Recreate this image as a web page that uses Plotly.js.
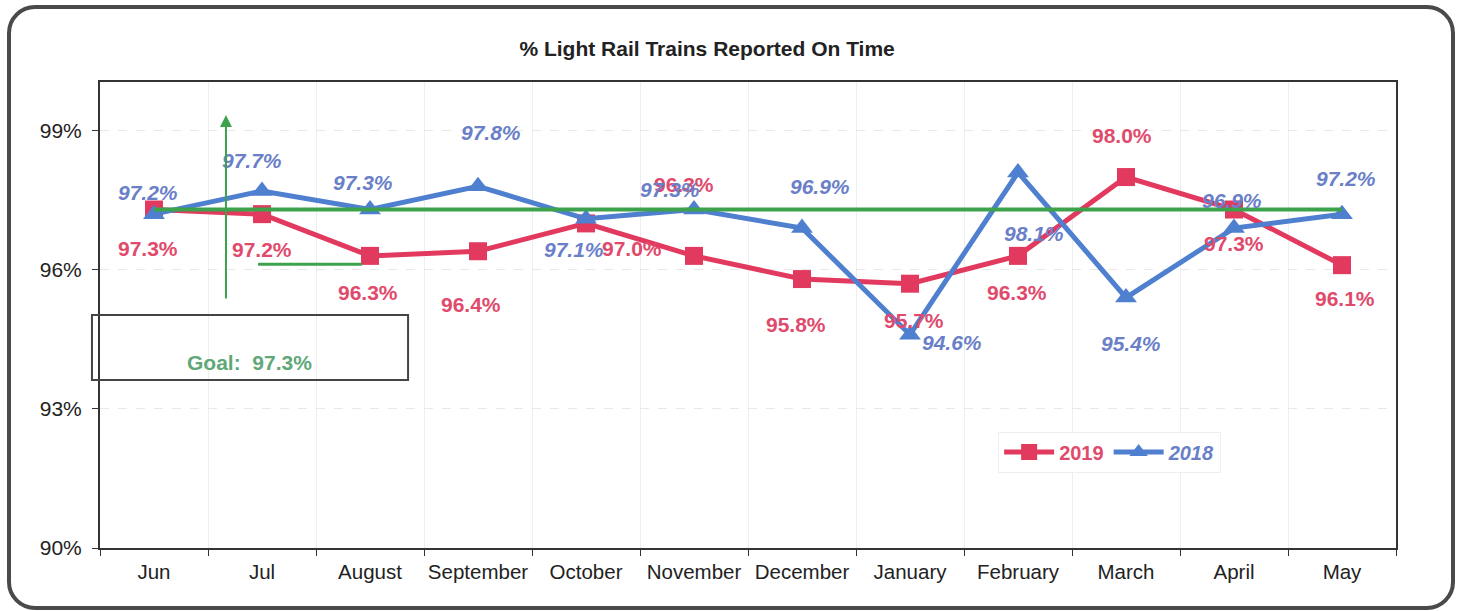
<!DOCTYPE html>
<html>
<head>
<meta charset="utf-8">
<script src="https://cdn.plot.ly/plotly-3.0.1.min.js"></script>
<style>
  html, body { margin: 0; padding: 0; background: #fff; }
  #wrap { position: relative; width: 1461px; height: 611px; overflow: hidden; }
  #chart { position: absolute; left: 0; top: 0; width: 1461px; height: 611px; }
  #frame { position: absolute; left: 7px; top: 5px; width: 1440px; height: 597px;
           border: 4px solid #4a4a4a; border-radius: 28px; pointer-events: none; }
</style>
</head>
<body>
<div id="wrap"><div id="chart"></div><div id="frame"></div></div>
<script>
const months = ["Jun","Jul","August","September","October","November","December","January","February","March","April","May"];
const values2019 = [97.3, 97.2, 96.3, 96.4, 97.0, 96.3, 95.8, 95.7, 96.3, 98.0, 97.3, 96.1];
const values2018 = [97.2, 97.7, 97.3, 97.8, 97.1, 97.3, 96.9, 94.6, 98.1, 95.4, 96.9, 97.2];
const goalValue = 97.3;
const yTicks = [90, 93, 96, 99];

// label offsets in pixels (style only)
const off2019 = [[-6,39],[0,35],[-2,37],[-7,53],[46,25],[-10,-71],[-6,45],[4,37],[-1,37],[-4,-42],[0,34],[3,33]];
const off2018 = [[-6,-22],[-10,-30],[-7,-27],[13,-54],[-12,31],[-24,-20],[18,-42],[42,8],[16,61],[5,46],[-2,-28],[4,-36]];

const red = "#e23a5e", blue = "#4f7fcf", green = "#3da24c";
const redText = "#e04a6c", blueText = "#6a7fc8";
const FONT = "Arial, Liberation Sans, sans-serif";

const goal = months.map(() => goalValue);

const traces = [
  { x: months, y: values2019, type: "scatter", mode: "lines+markers", name: '<span style="color:' + redText + '">2019</span>',
    line: { color: red, width: 5 }, marker: { symbol: "square", size: 18, color: red } },
  { x: months, y: values2018, type: "scatter", mode: "lines+markers", name: '<i><span style="color:' + blueText + '">2018</span></i>',
    line: { color: blue, width: 5 }, marker: { symbol: "triangle-up", size: 19, color: blue } },
  { x: months, y: goal, type: "scatter", mode: "lines", showlegend: false, hoverinfo: "skip",
    line: { color: green, width: 4 } }
];

const annotations = [];
months.forEach((m, i) => {
  annotations.push({ x: m, y: values2019[i], xref: "x", yref: "y", text: values2019[i].toFixed(1) + "%",
    showarrow: false, xanchor: "center", yanchor: "middle", xshift: off2019[i][0], yshift: -off2019[i][1],
    font: { family: FONT, size: 21, color: redText, weight: "bold" } });
  annotations.push({ x: m, y: values2018[i], xref: "x", yref: "y", text: values2018[i].toFixed(1) + "%",
    showarrow: false, xanchor: "center", yanchor: "middle", xshift: off2018[i][0], yshift: -off2018[i][1],
    font: { family: FONT, size: 21, color: blueText, weight: "bold", style: "italic" } });
});
annotations.push({ xref: "paper", yref: "paper", x: 0.1157, y: 0.397, xanchor: "center", yanchor: "middle",
  text: "Goal:  " + goalValue.toFixed(1) + "%",
  showarrow: false, font: { family: FONT, size: 21, color: "#5fa878", weight: "bold" } });
annotations.push({ xref: "paper", yref: "paper", x: 0.0972, y: 0.929, text: "", showarrow: true,
  ax: 0, ay: 185, arrowcolor: green, arrowwidth: 2, arrowhead: 2, arrowsize: 1.2 });

const layout = {
  width: 1461, height: 611,
  margin: { l: 100, r: 65, t: 82, b: 63 },
  paper_bgcolor: "rgba(0,0,0,0)", plot_bgcolor: "#fff",
  title: { text: "% Light Rail Trains Reported On Time", xref: "container", x: 0.484, xanchor: "center",
           yref: "container", y: 0.921, yanchor: "middle",
           font: { family: FONT, size: 21, color: "#222", weight: "bold" } },
  xaxis: { type: "category", range: [-0.5, 11.5], tickson: "boundaries", ticks: "outside", ticklen: 6, tickcolor: "#333",
           tickangle: 0, automargin: false,
           showline: true, linecolor: "#333", linewidth: 2, mirror: true, ticklabelstandoff: 4,
           showgrid: true, gridcolor: "#eeeeee", gridwidth: 1,
           tickfont: { family: FONT, size: 20.5, color: "#222" } },
  yaxis: { range: [90, 100.05], tickvals: yTicks, ticktext: yTicks.map(v => v + "%"), ticks: "outside", ticklen: 6, tickcolor: "#333",
           showline: true, linecolor: "#333", linewidth: 2, mirror: true, zeroline: false, ticklabelstandoff: 6,
           showgrid: true, gridcolor: "#e8e8e8", gridwidth: 1, griddash: "dash",
           tickfont: { family: FONT, size: 21, color: "#222" } },
  legend: { orientation: "h", xref: "paper", yref: "paper", x: 0.693, y: 0.25, xanchor: "left", yanchor: "top",
            bgcolor: "#fff", bordercolor: "#eeeeee", borderwidth: 1, itemwidth: 50,
            font: { family: FONT, size: 20, weight: "bold" } },
  shapes: [
    { type: "rect", xref: "paper", yref: "paper", x0: -0.0062, x1: 0.2377, y0: 0.3605, y1: 0.5,
      line: { color: "#444", width: 2 }, fillcolor: "rgba(0,0,0,0)" },
    { type: "line", xref: "paper", yref: "paper", x0: 0.122, x1: 0.202, y0: 0.609, y1: 0.609,
      line: { color: green, width: 3 } }
  ],
  annotations: annotations
};

Plotly.newPlot("chart", traces, layout, { displayModeBar: false, staticPlot: true });
</script>
</body>
</html>
